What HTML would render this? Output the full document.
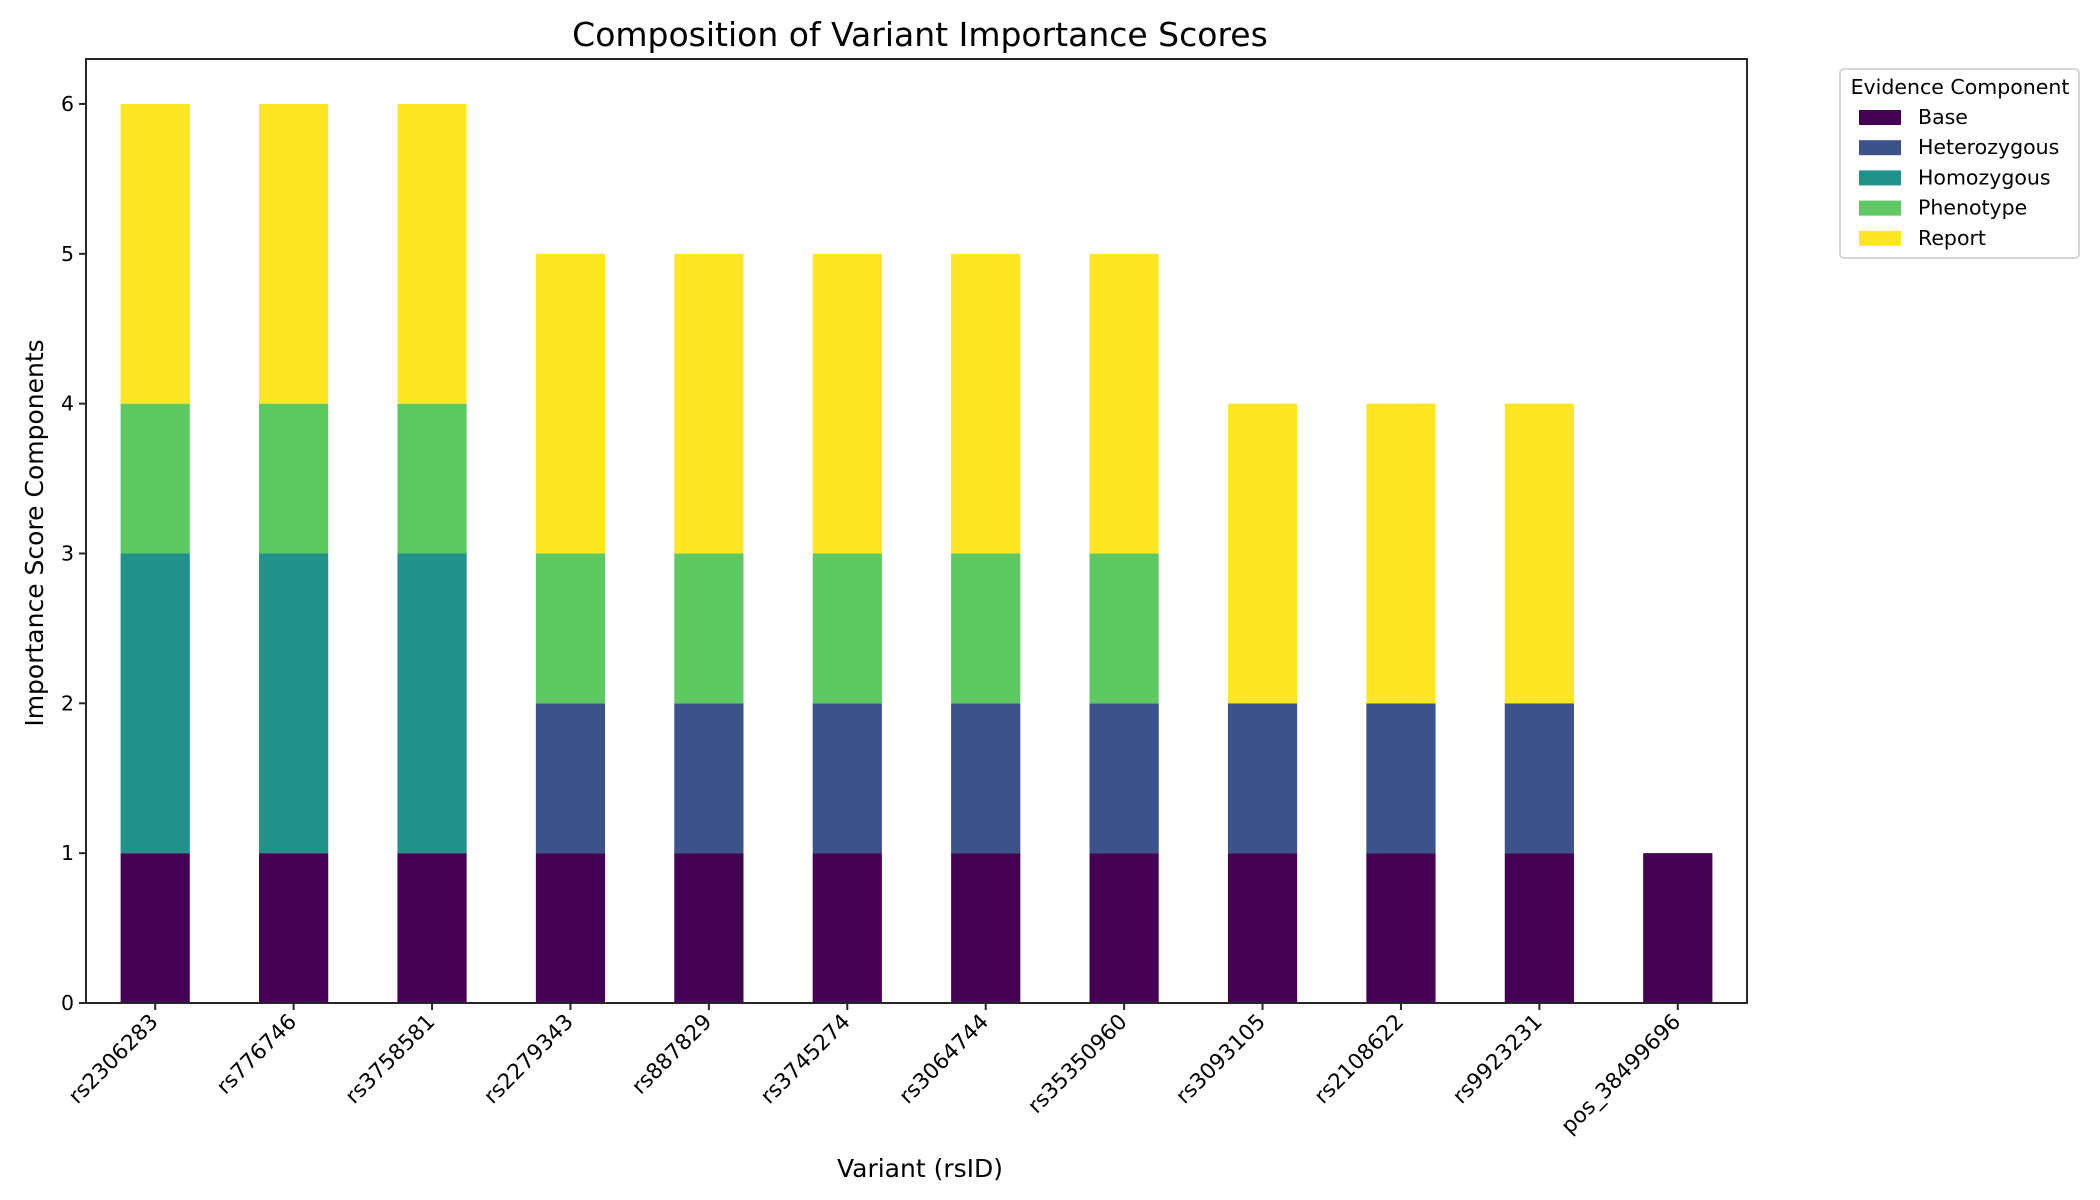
<!DOCTYPE html>
<html><head><meta charset="utf-8"><style>
html,body{margin:0;padding:0;background:#fff;}
svg{display:block;font-family:"DejaVu Sans","Liberation Sans",sans-serif;}
</style></head><body>
<svg id="chart" width="2100" height="1200" viewBox="0 0 2100 1200" xmlns="http://www.w3.org/2000/svg">
<text x="920" y="46" text-anchor="middle" font-size="33" fill="#000">Composition of Variant Importance Scores</text>
<g id="bars"></g>
<g id="axes"></g>
<text x="920" y="1177" text-anchor="middle" font-size="25" fill="#000">Variant (rsID)</text>
<text transform="translate(43,533) rotate(-90)" text-anchor="middle" font-size="25" fill="#000">Importance Score Components</text>
<g id="legend">
<rect x="1840" y="69" width="239" height="189" rx="4" fill="#fff" stroke="#d6d6d6" stroke-width="2"/>
<text x="1960" y="94" text-anchor="middle" font-size="20.5" fill="#000">Evidence Component</text>
</g>
</svg>
<script>
const categories=["rs2306283","rs776746","rs3758581","rs2279343","rs887829","rs3745274","rs3064744","rs35350960","rs3093105","rs2108622","rs9923231","pos_38499696"];
const seriesNames=["Base","Heterozygous","Homozygous","Phenotype","Report"];
const seriesColors=["#440154","#3b528b","#21918c","#5ec962","#fde725"];
const base=[1,1,1,1,1,1,1,1,1,1,1,1];
const heterozygous=[0,0,0,1,1,1,1,1,1,1,1,0];
const homozygous=[2,2,2,0,0,0,0,0,0,0,0,0];
const phenotype=[1,1,1,1,1,1,1,1,0,0,0,0];
const report=[2,2,2,2,2,2,2,2,2,2,2,0];
const yTicks=[0,1,2,3,4,5,6];
const series=[base,heterozygous,homozygous,phenotype,report];
const NS="http://www.w3.org/2000/svg";
const L=86,R=1747,T=59,B=1003,yMax=6.3;
const step=(R-L)/categories.length;
const xc=i=>L+step*(i+0.5);
const y=v=>B-(v/yMax)*(B-T);
const bw=step*0.5;
function mk(tag,attrs,parent){const e=document.createElementNS(NS,tag);for(const k in attrs)e.setAttribute(k,attrs[k]);parent.appendChild(e);return e;}
const gb=document.getElementById('bars');
categories.forEach((c,i)=>{let acc=0;series.forEach((s,j)=>{const v=s[i];if(v>0){const r=mk('rect',{x:xc(i)-bw/2,y:y(acc+v),width:bw,height:y(acc)-y(acc+v),fill:seriesColors[j]},gb);

}acc+=v;});});
const ga=document.getElementById('axes');
const fr=mk('rect',{x:L,y:T,width:R-L,height:B-T,fill:'none',stroke:'#262626','stroke-width':2},ga);


yTicks.forEach(t=>{mk('line',{x1:L-7,x2:L,y1:y(t),y2:y(t),stroke:'#262626','stroke-width':2},ga);
const tx=mk('text',{x:L-12,y:y(t)+7,'text-anchor':'end','font-size':20.5,fill:'#000'},ga);tx.textContent=t;

});
categories.forEach((c,i)=>{mk('line',{x1:xc(i),x2:xc(i),y1:B,y2:B+7,stroke:'#262626','stroke-width':2},ga);
const tx=mk('text',{transform:`translate(${xc(i)+4},${B+20}) rotate(-45)`,'text-anchor':'end','font-size':21.5,fill:'#000'},ga);tx.textContent=c;

});
const gl=document.getElementById('legend');
seriesNames.forEach((n,j)=>{const yy=117+j*30.2;
const r=mk('rect',{x:1859,y:yy-7,width:42,height:15,fill:seriesColors[j]},gl);


const t=mk('text',{x:1918,y:yy+7,'font-size':20.5,fill:'#000'},gl);t.textContent=n;

});
</script>
</body></html>
